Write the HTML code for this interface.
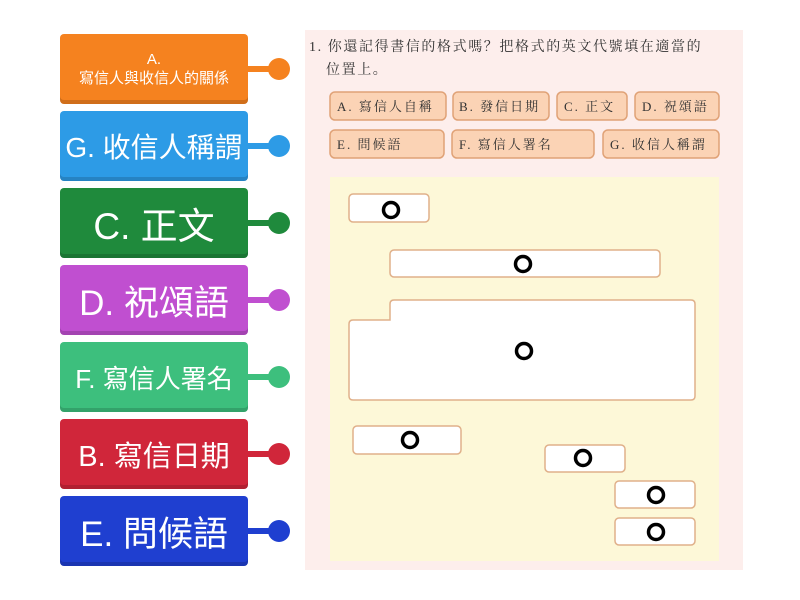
<!DOCTYPE html>
<html><head><meta charset="utf-8"><style>
body{margin:0;width:800px;height:600px;background:#fff;position:relative;overflow:hidden;font-family:"Liberation Sans","Noto Sans CJK TC",sans-serif}
.b{position:absolute;left:60px;width:188px;height:70px;border-radius:4px;color:#fff;display:flex;align-items:center;justify-content:center;text-align:center;box-shadow:inset 0 -4px 0 rgba(0,0,0,.15)}
.l{position:absolute;left:248px;height:6px;width:30px}
.c{position:absolute;left:268px;width:22px;height:22px;border-radius:50%}
</style></head><body>
<div class="b" style="top:34px;background:#f5821f;font-size:15px;line-height:19px">A.<br>寫信人與收信人的關係</div>
<div class="l" style="top:66px;background:#f5821f"></div><div class="c" style="top:58px;background:#f5821f"></div>
<div class="b" style="top:111px;background:#2d9be6;font-size:28px">G. 收信人稱謂</div>
<div class="l" style="top:143px;background:#2d9be6"></div><div class="c" style="top:135px;background:#2d9be6"></div>
<div class="b" style="top:188px;background:#1f8a3c;font-size:37px">C. 正文</div>
<div class="l" style="top:220px;background:#1f8a3c"></div><div class="c" style="top:212px;background:#1f8a3c"></div>
<div class="b" style="top:265px;background:#c04fd0;font-size:35px">D. 祝頌語</div>
<div class="l" style="top:297px;background:#c04fd0"></div><div class="c" style="top:289px;background:#c04fd0"></div>
<div class="b" style="top:342px;background:#3dbf7d;font-size:26px">F. 寫信人署名</div>
<div class="l" style="top:374px;background:#3dbf7d"></div><div class="c" style="top:366px;background:#3dbf7d"></div>
<div class="b" style="top:419px;background:#d0263a;font-size:29px">B. 寫信日期</div>
<div class="l" style="top:451px;background:#d0263a"></div><div class="c" style="top:443px;background:#d0263a"></div>
<div class="b" style="top:496px;background:#1f3fd0;font-size:35px">E. 問候語</div>
<div class="l" style="top:528px;background:#1f3fd0"></div><div class="c" style="top:520px;background:#1f3fd0"></div>

<svg style="position:absolute;left:0;top:0" width="800" height="600">
<rect x="305" y="30" width="438" height="540" fill="#fdeeec"/>
<g font-family="Liberation Serif,Noto Serif CJK SC,serif" font-size="14" fill="#333" letter-spacing="1.6">
<text x="309" y="51">1. 你還記得書信的格式嗎？把格式的英文代號填在適當的</text>
<text x="326" y="74">位置上。</text>
</g>
<g fill="#fbd3b5" stroke="#e0a277" stroke-width="1.5">
<rect x="330" y="92" width="116" height="28" rx="5"/><rect x="453" y="92" width="96" height="28" rx="5"/>
<rect x="557" y="92" width="70" height="28" rx="5"/><rect x="635" y="92" width="84" height="28" rx="5"/>
<rect x="330" y="130" width="114" height="28" rx="5"/><rect x="452" y="130" width="142" height="28" rx="5"/>
<rect x="603" y="130" width="116" height="28" rx="5"/>
</g>
<g font-family="Liberation Serif,Noto Serif CJK SC,serif" font-size="13" fill="#333" letter-spacing="2">
<text x="337" y="111">A. 寫信人自稱</text><text x="459" y="111">B. 發信日期</text>
<text x="564" y="111">C. 正文</text><text x="642" y="111">D. 祝頌語</text>
<text x="337" y="149">E. 問候語</text><text x="459" y="149">F. 寫信人署名</text>
<text x="610" y="149">G. 收信人稱謂</text>
</g>
<rect x="330" y="177" width="389" height="384" fill="#fdf8d8"/>
<g fill="#fff" stroke="#e0b08a" stroke-width="1.5">
<rect x="349" y="194" width="80" height="28" rx="4"/>
<rect x="390" y="250" width="270" height="27" rx="4"/>
<path d="M394 300 H691 Q695 300 695 304 V396 Q695 400 691 400 H353 Q349 400 349 396 V324 Q349 320 353 320 H390 V304 Q390 300 394 300 Z"/>
<rect x="353" y="426" width="108" height="28" rx="4"/>
<rect x="545" y="445" width="80" height="27" rx="4"/>
<rect x="615" y="481" width="80" height="27" rx="4"/>
<rect x="615" y="518" width="80" height="27" rx="4"/>
</g>
<g fill="none" stroke="#000" stroke-width="3.5">
<circle cx="391" cy="210" r="7.5"/><circle cx="523" cy="264" r="7.5"/><circle cx="524" cy="351" r="7.5"/>
<circle cx="410" cy="440" r="7.5"/><circle cx="583" cy="458" r="7.5"/><circle cx="656" cy="495" r="7.5"/><circle cx="656" cy="532" r="7.5"/>
</g>
</svg>
</body></html>
